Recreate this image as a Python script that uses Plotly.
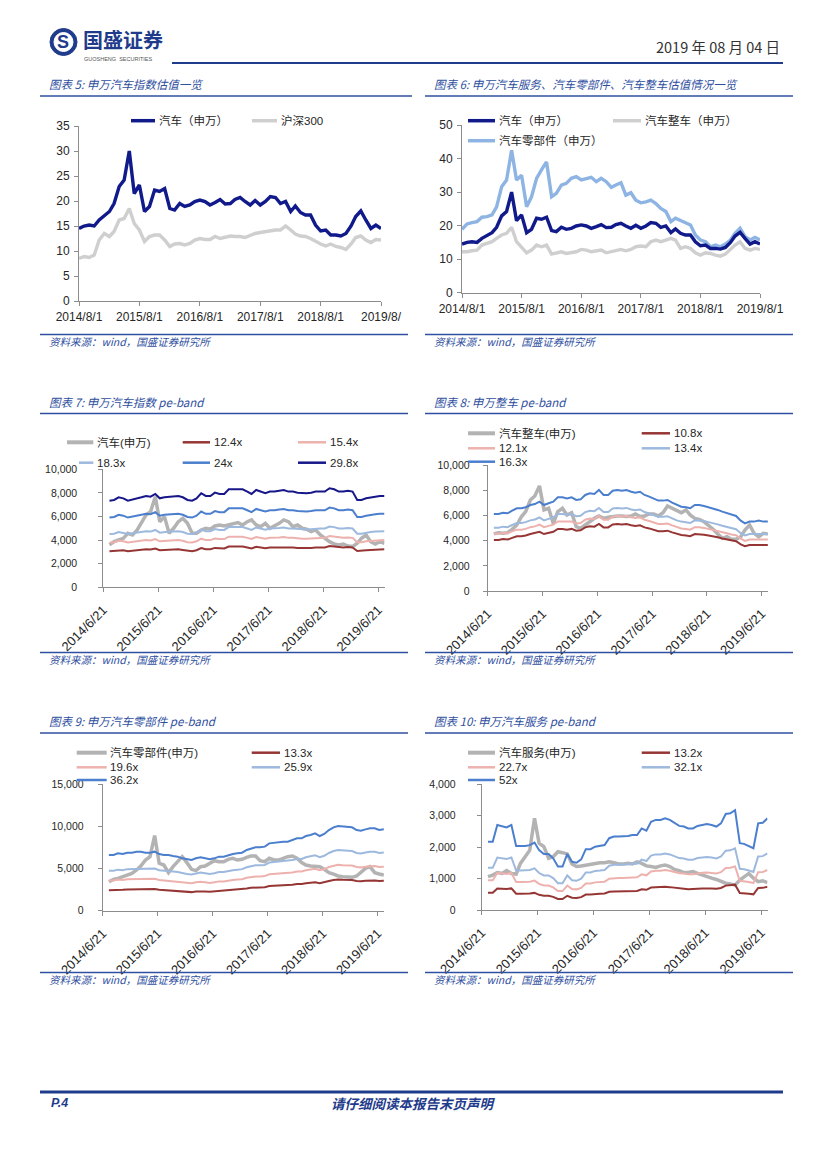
import pandas as pd
import plotly.graph_objects as go

W, H = 827, 1170

MONTHS = pd.date_range("2014-08-01", "2019-08-01", freq="MS")

# ---------------- 图表5 / 图表6 : PE (TTM) ----------------
AUTO_PE = [14.5, 15.0, 15.2, 15.0, 16.2, 17.0, 17.9, 19.5, 22.9, 24.2, 30.0, 21.5, 23.2, 17.9, 18.9, 22.2,
           21.9, 22.5, 18.5, 18.2, 19.5, 18.9, 19.2, 19.9, 20.2, 19.9, 19.2, 19.7, 20.3, 19.4, 19.5, 20.3,
           20.7, 19.9, 19.2, 20.1, 19.2, 19.9, 20.9, 20.7, 19.5, 19.9, 17.9, 19.0, 17.7, 17.2, 17.2, 15.2,
           14.0, 14.2, 13.2, 13.2, 13.0, 13.5, 15.0, 16.9, 18.0, 16.2, 14.5, 15.2, 14.5]
HS300_PE = [8.5, 8.9, 8.7, 9.2, 12.2, 13.5, 12.9, 13.9, 16.2, 16.5, 18.5, 15.5, 14.2, 11.9, 12.9, 13.2,
            13.2, 12.2, 10.9, 11.4, 11.5, 11.2, 11.5, 12.2, 12.5, 12.3, 12.3, 12.9, 12.5, 12.7, 13.0, 12.9,
            12.9, 12.7, 13.2, 13.5, 13.7, 13.9, 14.1, 14.2, 14.2, 15.0, 14.2, 13.4, 13.0, 12.9, 12.5, 11.9,
            11.4, 11.0, 11.4, 10.9, 10.7, 10.3, 11.4, 12.7, 13.0, 12.2, 11.7, 12.3, 12.2]
VEHICLE_PE = [12.2, 12.2, 12.5, 12.7, 14.2, 14.7, 15.2, 16.2, 17.2, 17.7, 19.5, 15.2, 13.7, 11.9, 12.7, 14.2,
              13.7, 14.2, 11.5, 11.9, 12.2, 11.7, 11.9, 12.2, 12.9, 12.7, 12.2, 12.5, 12.7, 11.9, 12.2, 12.7,
              12.9, 12.5, 12.9, 13.7, 13.9, 13.7, 15.2, 15.7, 15.2, 15.7, 16.2, 15.7, 13.2, 13.7, 13.2, 11.9,
              11.2, 11.9, 11.7, 11.2, 10.9, 11.5, 12.9, 14.2, 15.2, 13.2, 12.7, 13.2, 12.9]
PARTS_PE = [18.9, 20.5, 20.9, 21.2, 22.5, 22.7, 23.2, 25.6, 31.6, 33.6, 42.5, 33.6, 35.0, 25.6, 28.6, 34.1,
            36.6, 39.0, 28.6, 29.6, 32.1, 32.6, 34.1, 34.6, 33.6, 34.1, 34.4, 33.1, 34.1, 33.1, 31.4, 32.1,
            32.8, 29.1, 29.8, 27.6, 26.8, 27.1, 27.6, 26.6, 25.1, 24.2, 21.2, 22.2, 21.5, 20.7, 20.2, 17.2,
            15.7, 15.2, 13.7, 14.2, 13.7, 14.5, 15.7, 17.7, 19.2, 16.7, 15.7, 16.5, 15.7]

TICKS_A = ["2014-08-01", "2015-08-01", "2016-08-01", "2017-08-01", "2018-08-01", "2019-08-01"]
LABELS_5 = ["2014/8/1", "2015/8/1", "2016/8/1", "2017/8/1", "2018/8/1", "2019/8/"]
LABELS_6 = ["2014/8/1", "2015/8/1", "2016/8/1", "2017/8/1", "2018/8/1", "2019/8/1"]
TICKS_B = ["2014-06-21", "2015-06-21", "2016-06-21", "2017-06-21", "2018-06-21", "2019-06-21"]
LABELS_B = ["2014/6/21", "2015/6/21", "2016/6/21", "2017/6/21", "2018/6/21", "2019/6/21"]

# ---------------- 图表7 : 申万汽车 pe-band ----------------
AUTO_PRICE = [3590, 3870, 4010, 4150, 4580, 4430, 4860, 5420, 6130, 6410, 7680, 5560, 5990, 4580, 5000, 5560,
              5850, 5420, 4580, 4580, 4860, 5000, 4920, 5200, 5280, 5200, 5280, 5420, 5480, 5280, 5560, 5710,
              5280, 5140, 5420, 5000, 5200, 5420, 5710, 5560, 5140, 5280, 5000, 4920, 4720, 4860, 4430, 4150,
              3870, 3670, 3590, 3670, 3500, 3450, 3730, 4150, 4430, 3870, 3670, 3870, 3730]
AUTO_124 = [3050, 3080, 3170, 3140, 3050, 3100, 3140, 3170, 3220, 3200, 3290, 3140, 3170, 3200, 3200, 3220,
            3170, 3080, 3050, 3140, 3320, 3220, 3220, 3340, 3290, 3290, 3460, 3460, 3430, 3460, 3370, 3290,
            3430, 3370, 3320, 3370, 3370, 3410, 3430, 3370, 3370, 3340, 3320, 3320, 3340, 3370, 3370, 3370,
            3490, 3460, 3370, 3370, 3410, 3370, 3080, 3080, 3140, 3170, 3200, 3220, 3220]
AUTO_154 = [3790, 3820, 3940, 3900, 3790, 3860, 3900, 3940, 4000, 3970, 4090, 3900, 3940, 3970, 3970, 4000,
            3940, 3820, 3790, 3900, 4120, 4000, 4000, 4140, 4090, 4090, 4290, 4290, 4260, 4290, 4190, 4090,
            4260, 4190, 4120, 4190, 4190, 4230, 4260, 4190, 4190, 4140, 4120, 4120, 4140, 4190, 4190, 4190,
            4340, 4290, 4190, 4190, 4230, 4190, 3820, 3820, 3900, 3940, 3970, 4000, 4000]
AUTO_183 = [4510, 4540, 4690, 4630, 4510, 4580, 4630, 4690, 4750, 4720, 4860, 4630, 4690, 4720, 4720, 4750,
            4690, 4540, 4510, 4630, 4890, 4750, 4750, 4930, 4860, 4860, 5100, 5100, 5070, 5100, 4980, 4860,
            5070, 4980, 4890, 4980, 4980, 5030, 5070, 4980, 4980, 4930, 4890, 4890, 4930, 4980, 4980, 4980,
            5150, 5100, 4980, 4980, 5030, 4980, 4540, 4540, 4630, 4690, 4720, 4750, 4750]
AUTO_240 = [5910, 5960, 6150, 6070, 5910, 6010, 6070, 6150, 6230, 6190, 6370, 6070, 6150, 6190, 6190, 6230,
            6150, 5960, 5910, 6070, 6420, 6230, 6230, 6460, 6370, 6370, 6690, 6690, 6640, 6690, 6530, 6370,
            6640, 6530, 6420, 6530, 6530, 6600, 6640, 6530, 6530, 6460, 6420, 6420, 6460, 6530, 6530, 6530,
            6760, 6690, 6530, 6530, 6600, 6530, 5960, 5960, 6070, 6150, 6190, 6230, 6230]
AUTO_298 = [7340, 7400, 7630, 7540, 7340, 7460, 7540, 7630, 7740, 7680, 7910, 7540, 7630, 7680, 7680, 7740,
            7630, 7400, 7340, 7540, 7970, 7740, 7740, 8020, 7910, 7910, 8310, 8310, 8250, 8310, 8110, 7910,
            8250, 8110, 7970, 8110, 8110, 8190, 8250, 8110, 8110, 8020, 7970, 7970, 8020, 8110, 8110, 8110,
            8390, 8310, 8110, 8110, 8190, 8110, 7400, 7400, 7540, 7630, 7680, 7740, 7740]

# ---------------- 图表8 : 申万整车 pe-band ----------------
VEH_PRICE = [4540, 4640, 4590, 4640, 4910, 5250, 5920, 6310, 7240, 7560, 8360, 6450, 6580, 5380, 6310, 6580,
             6050, 6230, 5120, 4990, 5250, 5520, 5780, 5970, 5780, 5860, 5920, 5970, 5970, 5920, 5970, 6130,
             5920, 5970, 6130, 6130, 5970, 6230, 6760, 6580, 6390, 6230, 6450, 6050, 5780, 5700, 5520, 5250,
             4910, 4540, 4190, 4320, 4110, 4110, 4320, 4850, 5250, 4590, 4320, 4590, 4540]
VEH_108 = [4060, 4060, 4130, 4090, 4230, 4360, 4360, 4410, 4530, 4590, 4710, 4530, 4620, 4710, 4940, 4940,
           4880, 4940, 4800, 4830, 5060, 5150, 5120, 5330, 5060, 5060, 5290, 5330, 5290, 5330, 5230, 5180,
           5230, 5060, 4980, 4880, 4760, 4760, 4800, 4660, 4530, 4450, 4410, 4360, 4530, 4530, 4480, 4410,
           4360, 4270, 4180, 4090, 4010, 3960, 3710, 3560, 3660, 3660, 3710, 3660, 3660]
VEH_121 = [4550, 4550, 4620, 4590, 4740, 4880, 4880, 4940, 5080, 5140, 5280, 5080, 5180, 5280, 5530, 5530,
           5470, 5530, 5370, 5410, 5670, 5770, 5730, 5970, 5670, 5670, 5920, 5970, 5920, 5970, 5860, 5800,
           5860, 5670, 5570, 5470, 5340, 5340, 5370, 5220, 5080, 4980, 4940, 4880, 5080, 5080, 5020, 4940,
           4880, 4790, 4680, 4590, 4490, 4430, 4160, 3990, 4100, 4100, 4160, 4100, 4100]
VEH_134 = [5040, 5040, 5120, 5080, 5250, 5410, 5410, 5480, 5620, 5690, 5850, 5620, 5740, 5850, 6120, 6120,
           6060, 6120, 5950, 5990, 6280, 6390, 6350, 6610, 6280, 6280, 6560, 6610, 6560, 6610, 6490, 6430,
           6490, 6280, 6170, 6060, 5910, 5910, 5950, 5780, 5620, 5520, 5480, 5410, 5620, 5620, 5560, 5480,
           5410, 5300, 5190, 5080, 4970, 4910, 4600, 4420, 4540, 4540, 4600, 4540, 4540]
VEH_163 = [6130, 6130, 6230, 6180, 6390, 6580, 6580, 6660, 6840, 6920, 7110, 6840, 6980, 7110, 7450, 7450,
           7370, 7450, 7240, 7290, 7640, 7770, 7720, 8040, 7640, 7640, 7980, 8040, 7980, 8040, 7900, 7820,
           7900, 7640, 7510, 7370, 7190, 7190, 7240, 7030, 6840, 6710, 6660, 6580, 6840, 6840, 6760, 6660,
           6580, 6450, 6310, 6180, 6050, 5970, 5600, 5380, 5520, 5520, 5600, 5520, 5520]

# ---------------- 图表9 : 申万汽车零部件 pe-band ----------------
PARTS_PRICE = [3430, 3710, 3830, 4030, 4220, 4420, 4820, 5290, 6000, 6400, 8900, 5610, 5410, 4500, 5210, 5800,
               6400, 5690, 4900, 4740, 5210, 5290, 5610, 5920, 5800, 5800, 6080, 6200, 6000, 6080, 6320, 6470,
               6470, 5920, 5800, 6200, 6000, 6000, 6200, 6400, 6470, 6200, 5690, 5410, 5290, 5290, 5210, 4900,
               4500, 4340, 4110, 4030, 4030, 3950, 4110, 4500, 5010, 5210, 4500, 4340, 4220]
PARTS_133 = [2420, 2420, 2490, 2470, 2520, 2520, 2570, 2570, 2520, 2520, 2570, 2470, 2420, 2420, 2380, 2350,
             2280, 2230, 2200, 2280, 2320, 2280, 2230, 2280, 2350, 2350, 2420, 2470, 2490, 2520, 2640, 2710,
             2760, 2760, 2780, 2930, 2960, 2960, 3000, 3000, 3080, 3150, 3150, 3250, 3290, 3370, 3250, 3340,
             3510, 3630, 3690, 3660, 3630, 3630, 3510, 3480, 3540, 3580, 3580, 3510, 3540]
PARTS_196 = [3570, 3570, 3680, 3630, 3720, 3720, 3780, 3780, 3720, 3720, 3780, 3630, 3570, 3570, 3500, 3470,
             3360, 3290, 3250, 3360, 3420, 3360, 3290, 3360, 3470, 3470, 3570, 3630, 3680, 3720, 3890, 4000,
             4060, 4060, 4100, 4310, 4360, 4360, 4420, 4420, 4530, 4640, 4640, 4790, 4850, 4960, 4790, 4920,
             5170, 5340, 5430, 5390, 5340, 5340, 5170, 5130, 5210, 5280, 5280, 5170, 5210]
PARTS_259 = [4720, 4720, 4860, 4800, 4920, 4920, 5000, 5000, 4920, 4920, 5000, 4800, 4720, 4720, 4630, 4580,
             4440, 4350, 4290, 4440, 4520, 4440, 4350, 4440, 4580, 4580, 4720, 4800, 4860, 4920, 5140, 5280,
             5370, 5370, 5420, 5700, 5760, 5760, 5850, 5850, 5990, 6130, 6130, 6330, 6410, 6550, 6330, 6500,
             6830, 7060, 7180, 7120, 7060, 7060, 6830, 6780, 6890, 6980, 6980, 6830, 6890]
PARTS_362 = [6590, 6590, 6790, 6710, 6870, 6870, 6990, 6990, 6870, 6870, 6990, 6710, 6590, 6590, 6470, 6400,
             6200, 6080, 6000, 6200, 6320, 6200, 6080, 6200, 6400, 6400, 6590, 6710, 6790, 6870, 7190, 7380,
             7500, 7500, 7580, 7970, 8050, 8050, 8170, 8170, 8370, 8570, 8570, 8840, 8960, 9160, 8840, 9080,
             9550, 9870, 10030, 9950, 9870, 9870, 9550, 9470, 9630, 9750, 9750, 9550, 9630]

# ---------------- 图表10 : 申万汽车服务 pe-band ----------------
SERV_PRICE = [1060, 1110, 1190, 1160, 1250, 1160, 1140, 1480, 1690, 1900, 2910, 2120, 2010, 1640, 1690, 1850,
              1820, 1780, 1460, 1380, 1400, 1430, 1460, 1480, 1500, 1500, 1530, 1500, 1460, 1460, 1480, 1460,
              1530, 1480, 1400, 1380, 1350, 1400, 1430, 1380, 1290, 1250, 1190, 1190, 1220, 1160, 1110, 1040,
              1010, 970, 900, 850, 830, 790, 950, 1060, 1160, 1010, 900, 930, 870]
SERV_132 = [551, 551, 685, 673, 665, 685, 515, 515, 515, 523, 543, 482, 452, 452, 416, 350,
            350, 452, 388, 381, 409, 490, 490, 510, 515, 523, 579, 591, 591, 591, 596, 604,
            604, 657, 640, 711, 726, 726, 739, 726, 703, 678, 673, 657, 657, 678, 685, 693,
            685, 673, 698, 774, 779, 805, 538, 533, 515, 497, 698, 703, 739]
SERV_227 = [947, 947, 1179, 1157, 1144, 1179, 886, 886, 886, 899, 934, 829, 777, 777, 716, 602,
            602, 777, 668, 655, 703, 842, 842, 877, 886, 899, 995, 1017, 1017, 1017, 1026, 1039,
            1039, 1131, 1100, 1222, 1248, 1248, 1270, 1248, 1209, 1165, 1157, 1131, 1131, 1165, 1179, 1192,
            1179, 1157, 1200, 1331, 1340, 1384, 925, 917, 886, 856, 1200, 1209, 1270]
SERV_321 = [1340, 1340, 1667, 1636, 1617, 1667, 1253, 1253, 1253, 1272, 1321, 1173, 1099, 1099, 1012, 852,
            852, 1099, 944, 926, 994, 1191, 1191, 1241, 1253, 1272, 1407, 1438, 1438, 1438, 1451, 1469,
            1469, 1599, 1556, 1728, 1765, 1765, 1796, 1765, 1710, 1648, 1636, 1599, 1599, 1648, 1667, 1685,
            1667, 1636, 1698, 1883, 1895, 1957, 1309, 1296, 1253, 1210, 1698, 1710, 1796]
SERV_520 = [2170, 2170, 2700, 2650, 2620, 2700, 2030, 2030, 2030, 2060, 2140, 1900, 1780, 1780, 1640, 1380,
            1380, 1780, 1530, 1500, 1610, 1930, 1930, 2010, 2030, 2060, 2280, 2330, 2330, 2330, 2350, 2380,
            2380, 2590, 2520, 2800, 2860, 2860, 2910, 2860, 2770, 2670, 2650, 2590, 2590, 2670, 2700, 2730,
            2700, 2650, 2750, 3050, 3070, 3170, 2120, 2100, 2030, 1960, 2750, 2770, 2910]

# ---------------- styles ----------------
FONT = "Liberation Sans, Arial, Noto Sans CJK SC, sans-serif"
CJK = "Noto Sans CJK SC, Liberation Sans, sans-serif"
TXT = "#262626"
AXC = "#8C8C8C"
BLUE_T = "#2F4F9F"
DARK = "#1F3C8C"

NAVY = "#101A8A"
GRAY_L = "#CFCFCF"
LBLUE2 = "#8EB4E3"
GRAY_P = "#B3B3B3"
DRED = "#963634"
PINK = "#EDB1AE"
LBLUE = "#9DB9DE"
BLUE = "#4B7FCE"
NAVY2 = "#17178A"

fig = go.Figure()
shapes = []
annots = []
axes = {}


def X(p):
    return p / W


def Y(p):
    return 1 - p / H


def series(n, y, color, width):
    s = "" if n == 1 else str(n)
    fig.add_trace(go.Scatter(x=MONTHS, y=y, mode="lines", line=dict(color=color, width=width),
                             xaxis="x" + s, yaxis="y" + s, showlegend=False, hoverinfo="skip"))


def set_axes(n, xdom, ydom, xrange, tvals, ttext, yrange, dtick, angle, yfmt, ystand, xsize, ysize, xstand):
    s = "" if n == 1 else str(n)
    axes["xaxis" + s] = dict(domain=[X(xdom[0]), X(xdom[1])], anchor="y" + s, type="date", range=xrange,
                             tickmode="array", tickvals=tvals, ticktext=ttext, tickangle=angle,
                             showline=True, linecolor=AXC, linewidth=1, ticks="outside", ticklen=4,
                             tickcolor=AXC, showgrid=False, zeroline=False, ticklabelstandoff=xstand,
                             automargin=False,
                             tickfont=dict(family=FONT, size=xsize, color=TXT), fixedrange=True)
    axes["yaxis" + s] = dict(domain=[Y(ydom[1]), Y(ydom[0])], anchor="x" + s, range=yrange, dtick=dtick,
                             tick0=0, tickformat=yfmt, showline=True, linecolor=AXC, linewidth=1,
                             ticks="outside", ticklen=4, tickcolor=AXC, showgrid=False, zeroline=False,
                             ticklabelstandoff=ystand, automargin=False,
                             tickfont=dict(family=FONT, size=ysize, color=TXT), fixedrange=True)


def hline(x0, x1, y, color, width):
    shapes.append(dict(type="line", xref="paper", yref="paper", x0=X(x0), x1=X(x1), y0=Y(y), y1=Y(y),
                       line=dict(color=color, width=width), layer="above"))


def text(x, y, s, size, color=TXT, anchor="left", family=FONT, style="normal", weight="normal"):
    annots.append(dict(xref="paper", yref="paper", x=X(x), y=Y(y), text=s, showarrow=False,
                       xanchor=anchor, yanchor="middle", borderpad=0,
                       font=dict(family=family, size=size, color=color, style=style, weight=weight)))


def leg(x0, x1, y, color, width, label, size=11.5):
    hline(x0, x1, y, color, width)
    text(x1 + 2.5, y, label, size)


# ---------------- page header / footer ----------------
shapes.append(dict(type="circle", xref="paper", yref="paper", x0=X(50), x1=X(77), y0=Y(55.5), y1=Y(28.5),
                   fillcolor=DARK, line=dict(color=DARK, width=1)))
shapes.append(dict(type="circle", xref="paper", yref="paper", x0=X(54), x1=X(73), y0=Y(51.5), y1=Y(32.5),
                   fillcolor="white", line=dict(color="white", width=1)))
text(63.5, 42.5, "<b>S</b>", 18, DARK, "center", FONT)
text(82, 39.5, "国盛证券", 20, DARK, "left", CJK, weight="bold")
text(83, 58.5, "GUOSHENG  SECURITIES", 5.5, "#555555", "left", FONT)
text(781, 47, "2019 年 08 月 04 日", 14.5, "#333333", "right", CJK)
hline(172, 783, 63, DARK, 2.2)

hline(40, 783, 1092, DARK, 3)
text(50, 1103, "P.4", 12.5, DARK, "left", FONT, "italic", "bold")
text(413, 1103, "请仔细阅读本报告末页声明", 13.5, DARK, "center", CJK, "italic", "bold")

# section titles and source notes
for (tx, ty, t, lx0, lx1, ly) in [
    (48, 84, "图表 5: 申万汽车指数估值一览", 40, 412, 96),
    (433, 84, "图表 6: 申万汽车服务、汽车零部件、汽车整车估值情况一览", 425, 793, 96),
    (48, 402, "图表 7: 申万汽车指数 pe-band", 40, 408, 413.5),
    (433, 402, "图表 8: 申万整车 pe-band", 425, 793, 413.5),
    (48, 721, "图表 9: 申万汽车零部件 pe-band", 40, 408, 733),
    (433, 721, "图表 10: 申万汽车服务 pe-band", 425, 793, 733),
]:
    text(tx, ty, t, 11.5, BLUE_T, "left", CJK, "italic")
    hline(lx0, lx1, ly, BLUE_T, 1.3)

for (sx, sy, lx0, lx1, ly) in [
    (48, 341, 40, 408, 334.5), (433, 341, 425, 793, 334.5),
    (48, 659.5, 40, 408, 652.5), (433, 659.5, 425, 793, 652.5),
    (48, 979, 40, 408, 972.5), (433, 979, 425, 793, 972.5),
]:
    text(sx, sy, "资料来源：wind，国盛证券研究所", 10.5, BLUE_T, "left", CJK, "italic")
    hline(lx0, lx1, ly, BLUE_T, 1.3)

# ---------------- chart 5 ----------------
series(1, HS300_PE, GRAY_L, 3.4)
series(1, AUTO_PE, NAVY, 3.4)
set_axes(1, (79, 381), (126, 301), ["2014-08-01", "2019-08-01"], TICKS_A, LABELS_5, [0, 35], 5, 0,
         "", 2, 12, 12, 1)
leg(131, 155, 120.7, NAVY, 3.5, "汽车（申万）", 11.5)
leg(252, 277, 120.7, GRAY_L, 3.5, "沪深300", 11.5)

# ---------------- chart 6 ----------------
series(2, VEHICLE_PE, GRAY_L, 3.4)
series(2, PARTS_PE, LBLUE2, 3.4)
series(2, AUTO_PE, NAVY, 3.4)
set_axes(2, (462, 760), (125, 292.7), ["2014-08-01", "2019-08-01"], TICKS_A, LABELS_6, [0, 50], 10, 0,
         "", 2, 12, 12, 1)
leg(468, 495, 120.7, NAVY, 3.5, "汽车（申万）", 11.5)
leg(613, 641, 120.7, GRAY_L, 3.5, "汽车整车（申万）", 11.5)
leg(468, 495, 140.7, LBLUE2, 3.5, "汽车零部件（申万）", 11.5)

# ---------------- chart 7 ----------------
series(3, AUTO_PRICE, GRAY_P, 3.5)
series(3, AUTO_124, DRED, 2)
series(3, AUTO_154, PINK, 2)
series(3, AUTO_183, LBLUE, 2)
series(3, AUTO_240, BLUE, 2)
series(3, AUTO_298, NAVY2, 2)
set_axes(3, (103.3, 384.5), (469.3, 587.3), ["2014-06-21", "2019-08-01"], TICKS_B, LABELS_B, [0, 10000],
         2000, -45, ",d", 19, 13, 10.5, 5)
leg(67, 93.3, 442.3, GRAY_P, 4, "汽车(申万)")
leg(182.7, 210, 442.3, DRED, 2.5, "12.4x")
leg(298, 326, 442.3, PINK, 2.5, "15.4x")
leg(79, 93.3, 462.7, LBLUE, 2.5, "18.3x")
leg(182.7, 210, 462.7, BLUE, 2.5, "24x")
leg(298, 326, 462.7, NAVY2, 2.5, "29.8x")

# ---------------- chart 8 ----------------
series(4, VEH_PRICE, GRAY_P, 3.5)
series(4, VEH_108, DRED, 2)
series(4, VEH_121, PINK, 2)
series(4, VEH_134, LBLUE, 2)
series(4, VEH_163, BLUE, 2)
set_axes(4, (487.7, 767.9), (465.3, 591), ["2014-06-21", "2019-08-01"], TICKS_B, LABELS_B, [0, 10000],
         2000, -45, ",d", 11, 13, 10.5, 5)
leg(468, 495, 433.3, GRAY_P, 4, "汽车整车(申万)")
leg(641.7, 670, 433.3, DRED, 2.5, "10.8x")
leg(468, 495, 448.3, PINK, 2.5, "12.1x")
leg(641.7, 670, 448.3, LBLUE, 2.5, "13.4x")
leg(468, 495, 461.7, BLUE, 2.5, "16.3x")

# ---------------- chart 9 ----------------
series(5, PARTS_PRICE, GRAY_P, 3.5)
series(5, PARTS_133, DRED, 2)
series(5, PARTS_196, PINK, 2)
series(5, PARTS_259, LBLUE, 2)
series(5, PARTS_362, BLUE, 2)
set_axes(5, (102.7, 383.9), (784, 910.7), ["2014-06-21", "2019-08-01"], TICKS_B, LABELS_B, [0, 15000],
         5000, -45, ",d", 12, 13, 10.5, 5)
leg(76.7, 106.7, 752.7, GRAY_P, 4, "汽车零部件(申万)")
leg(251.7, 280, 752.7, DRED, 2.5, "13.3x")
leg(76.7, 106.7, 767.3, PINK, 2.5, "19.6x")
leg(251.7, 280, 767.3, LBLUE, 2.5, "25.9x")
leg(76.7, 106.7, 780, BLUE, 2.5, "36.2x")

# ---------------- chart 10 ----------------
series(6, SERV_PRICE, GRAY_P, 3.5)
series(6, SERV_132, DRED, 2)
series(6, SERV_227, PINK, 2)
series(6, SERV_321, LBLUE, 2)
series(6, SERV_520, BLUE, 2)
set_axes(6, (481.7, 767.5), (784, 910), ["2014-06-21", "2019-08-01"], TICKS_B, LABELS_B, [0, 4000],
         1000, -45, ",d", 19, 13, 10.5, 5)
leg(468, 495, 752.7, GRAY_P, 4, "汽车服务(申万)")
leg(641.7, 670, 752.7, DRED, 2.5, "13.2x")
leg(468, 495, 767.3, PINK, 2.5, "22.7x")
leg(641.7, 670, 767.3, LBLUE, 2.5, "32.1x")
leg(468, 495, 780, BLUE, 2.5, "52x")

fig.update_layout(
    width=W, height=H, margin=dict(l=0, r=0, t=0, b=0, pad=0, autoexpand=False),
    paper_bgcolor="white", plot_bgcolor="white", showlegend=False,
    shapes=shapes, annotations=annots, font=dict(family=FONT, color=TXT), **axes,
)

fig.write_html("out.html", config={"displayModeBar": False},
               post_script="document.body.style.margin='0px';document.body.style.overflow='hidden';")
